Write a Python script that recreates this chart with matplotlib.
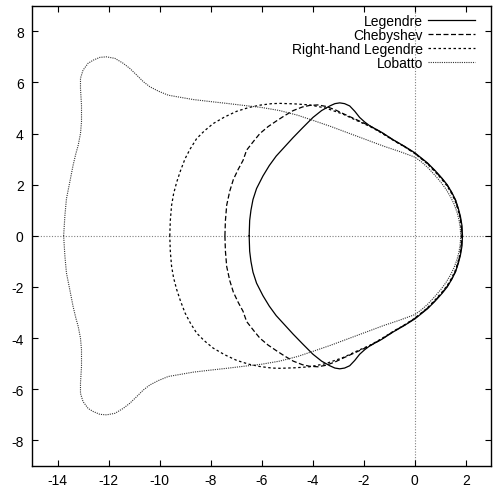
"""
plot.py

Stability region boundaries in the complex plane for four sets of
quadrature nodes, drawn in the style of the old gnuplot figure.
Only the upper half of each curve is listed; it is mirrored in y.
"""
import numpy as np
import matplotlib
matplotlib.use('Agg')
import matplotlib.pyplot as plt
from matplotlib import rcParams

# Curve data (upper half)
legendre_x = [-6.49, -6.47, -6.42, -6.34, -6.2, -5.95, -5.7, -5.43, -5.1, -4.77,
              -4.4, -3.99, -3.65, -3.33, -3.13, -2.94, -2.75, -2.55, -2.35, -2.16,
              -1.96, -1.76, -1.3, -0.85, -0.4, 0.0, 0.25, 0.5, 0.8, 1.06,
              1.27, 1.45, 1.6, 1.71, 1.79, 1.85, 1.87]
legendre_y = [0.0, 0.6, 1.0, 1.42, 1.85, 2.34, 2.75, 3.12, 3.48, 3.84,
              4.22, 4.63, 4.9, 5.08, 5.17, 5.2, 5.17, 5.08, 4.87, 4.63,
              4.45, 4.3, 4.05, 3.76, 3.5, 3.25, 3.05, 2.85, 2.55, 2.26,
              2.0, 1.7, 1.4, 1.06, 0.75, 0.4, 0.0]

chebyshev_x = [-7.44, -7.42, -7.37, -7.25, -7.11, -6.92, -6.73, -6.59, -6.3, -6.07,
               -5.75, -5.41, -5.1, -4.76, -4.4, -4.12, -3.8, -3.47, -3.1, -2.81,
               -2.3, -1.76, -1.3, -0.85, -0.4, 0.0, 0.25, 0.5, 0.8, 1.06,
               1.27, 1.45, 1.6, 1.7, 1.78, 1.83, 1.85]
chebyshev_y = [0.0, 0.6, 1.2, 1.75, 2.2, 2.6, 2.95, 3.35, 3.72, 4.0,
               4.27, 4.5, 4.7, 4.9, 5.04, 5.1, 5.12, 5.06, 4.92, 4.78,
               4.55, 4.3, 4.04, 3.75, 3.49, 3.23, 3.03, 2.83, 2.53, 2.24,
               1.98, 1.68, 1.38, 1.05, 0.74, 0.4, 0.0]

rh_legendre_x = [-9.6, -9.58, -9.53, -9.45, -9.33, -9.18, -9.0, -8.8, -8.55, -8.25,
                 -7.9, -7.45, -6.98, -6.5, -6.07, -5.6, -5.28, -4.7, -4.12, -3.5,
                 -2.81, -2.3, -1.76, -1.3, -0.85, -0.4, 0.0, 0.25, 0.5, 0.8,
                 1.05, 1.26, 1.44, 1.58, 1.69, 1.77, 1.81, 1.83]
rh_legendre_y = [0.0, 0.6, 1.19, 1.65, 2.1, 2.55, 3.02, 3.4, 3.8, 4.1,
                 4.39, 4.65, 4.87, 5.02, 5.11, 5.17, 5.18, 5.16, 5.12, 5.0,
                 4.76, 4.52, 4.28, 4.02, 3.74, 3.48, 3.22, 3.02, 2.81, 2.5,
                 2.22, 1.96, 1.66, 1.37, 1.04, 0.73, 0.4, 0.0]

lobatto_x = [-13.76, -13.71, -13.65, -13.52, -13.39, -13.28, -13.19, -13.1, -13.06, -13.06,
             -13.1, -13.1, -13.0, -12.8, -12.6, -12.34, -12.08, -11.75, -11.43, -11.17,
             -10.9, -10.64, -10.38, -10.05, -9.66, -9.2, -8.68, -8.0, -7.37, -6.7,
             -6.0, -5.3, -4.6, -4.0, -3.3, -2.6, -1.9, -1.2, -0.6, 0.0,
             0.25, 0.5, 0.78, 1.02, 1.22, 1.4, 1.54, 1.65, 1.73, 1.78, 1.8]
lobatto_y = [0.0, 0.8, 1.45, 2.1, 2.76, 3.22, 3.54, 4.0, 4.46, 5.11,
             5.76, 6.16, 6.48, 6.75, 6.87, 6.98, 7.0, 6.94, 6.75, 6.55,
             6.29, 6.03, 5.83, 5.66, 5.5, 5.42, 5.33, 5.25, 5.18, 5.1,
             5.02, 4.9, 4.72, 4.52, 4.28, 4.02, 3.76, 3.5, 3.3, 3.08,
             2.9, 2.68, 2.38, 2.1, 1.83, 1.53, 1.24, 0.94, 0.64, 0.33, 0.0]

labels = ['Legendre', 'Chebyshev', 'Right-hand Legendre', 'Lobatto']
xticks = [-14, -12, -10, -8, -6, -4, -2, 0, 2]
yticks = [-8, -6, -4, -2, 0, 2, 4, 6, 8]


def closed_curve(xs, ys):
    # mirror the upper half about the real axis
    xs = np.asarray(xs)
    ys = np.asarray(ys)
    return (np.concatenate([xs, xs[::-1][1:]]),
            np.concatenate([ys, -ys[::-1][1:]]))


# Set up fonts
rcParams['font.family'] = 'sans-serif'
rcParams['font.sans-serif'] = ['Liberation Sans', 'DejaVu Sans']
rcParams['font.size'] = 10
rcParams['axes.unicode_minus'] = False

fig = plt.figure(figsize=(4.93, 4.89), dpi=100, facecolor='white')
ax = fig.add_axes([0.0649, 0.045, 0.9317, 0.9413])

# zero axes
ax.axhline(0, color='#808080', lw=0.8, ls=(0, (1, 1.5)), zorder=1)
ax.axvline(0, color='#808080', lw=0.8, ls=(0, (1, 1.5)), zorder=1)

styles = [dict(color='black', lw=0.9, ls='-'),
          dict(color='black', lw=0.9, ls=(0, (4, 2))),
          dict(color='black', lw=0.9, ls=(0, (2, 2))),
          dict(color='#333333', lw=0.8, ls=(0, (1, 1)))]
curves = [(legendre_x, legendre_y), (chebyshev_x, chebyshev_y),
          (rh_legendre_x, rh_legendre_y), (lobatto_x, lobatto_y)]

for (cx, cy), st, lab in zip(curves, styles, labels):
    px, py = closed_curve(cx, cy)
    ax.plot(px, py, label=lab, **st)

ax.set_xlim(-15, 3)
ax.set_ylim(-9, 9)
ax.set_xticks(xticks)
ax.set_yticks(yticks)
ax.tick_params(direction='in', length=4.5, width=0.8, top=True, right=True,
               labeltop=False, labelright=False, labelsize=10)
ax.tick_params(axis='x', pad=5)
ax.tick_params(axis='y', pad=6)
for sp in ax.spines.values():
    sp.set_linewidth(1.0)

ax.legend(loc='upper right', bbox_to_anchor=(0.965, 0.983), frameon=False,
          markerfirst=False, fontsize=10, handlelength=3.4, handletextpad=0.35,
          labelspacing=0.0, borderpad=0, borderaxespad=0)

fig.savefig('out.png', dpi=100, facecolor='white')
